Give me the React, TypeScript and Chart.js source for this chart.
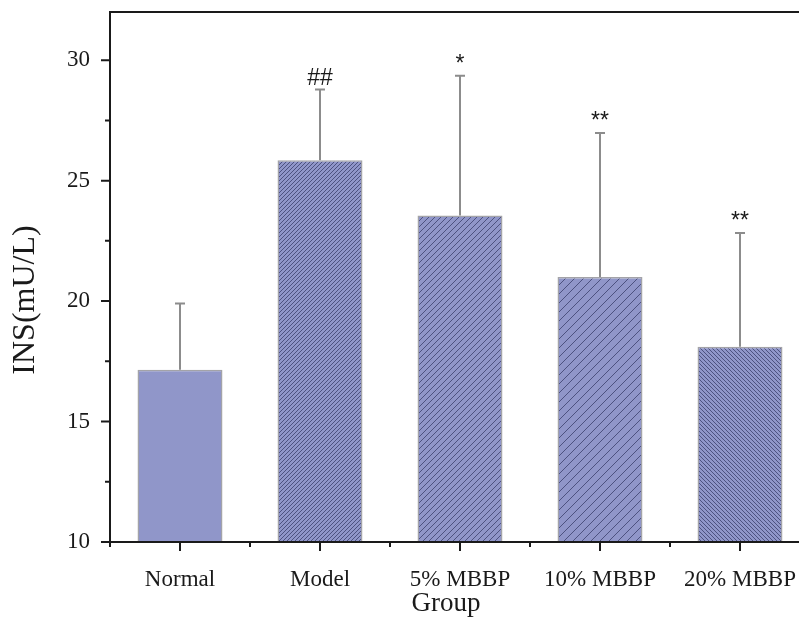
import React, { useEffect, useRef } from "react";
import { Chart, registerables } from "chart.js";

Chart.register(...registerables);

const categories = ["Normal", "Model", "5% MBBP", "10% MBBP", "20% MBBP"];
const means = [17.15, 25.85, 23.55, 21.0, 18.1];
const upperErrors = [19.9, 28.78, 29.35, 26.98, 22.83];
const marks = ["", "##", "*", "**", "**"];
const hatchKinds = ["none", "fwd-dense", "fwd-mid", "fwd-wide", "back-dense"];
const yTicks = [10, 15, 20, 25, 30];

const FILL = "#9096c9";
const LINE = "#4d5280";

function makePattern(kind: string): CanvasPattern | string {
  if (kind === "none") return FILL;
  const spacing = kind.endsWith("dense") ? 4 : kind.endsWith("mid") ? 6 : 9;
  const c = document.createElement("canvas");
  c.width = spacing;
  c.height = spacing;
  const g = c.getContext("2d")!;
  g.fillStyle = FILL;
  g.fillRect(0, 0, spacing, spacing);
  g.strokeStyle = LINE;
  g.lineWidth = 1;
  g.beginPath();
  if (kind.startsWith("fwd")) {
    g.moveTo(-1, spacing + 1);
    g.lineTo(spacing + 1, -1);
    g.moveTo(-1, 1);
    g.lineTo(1, -1);
    g.moveTo(spacing - 1, spacing + 1);
    g.lineTo(spacing + 1, spacing - 1);
  } else {
    g.moveTo(-1, -1);
    g.lineTo(spacing + 1, spacing + 1);
    g.moveTo(spacing - 1, -1);
    g.lineTo(spacing + 1, 1);
    g.moveTo(-1, spacing - 1);
    g.lineTo(1, spacing + 1);
  }
  g.stroke();
  const p = g.createPattern(c, "repeat");
  return p || FILL;
}

const decorPlugin = {
  id: "decor",
  afterDatasetsDraw(chart: any) {
    const ctx = chart.ctx;
    const xs = chart.scales.x;
    const ys = chart.scales.y;
    const area = chart.chartArea;
    ctx.save();
    // error bars
    ctx.strokeStyle = "#8c8c8c";
    ctx.lineWidth = 2;
    categories.forEach((_, i) => {
      const x = xs.getPixelForValue(i);
      const y0 = ys.getPixelForValue(means[i]);
      const y1 = ys.getPixelForValue(upperErrors[i]);
      ctx.beginPath();
      ctx.moveTo(x, y0);
      ctx.lineTo(x, y1);
      ctx.moveTo(x - 5, y1);
      ctx.lineTo(x + 5, y1);
      ctx.stroke();
      if (marks[i]) {
        ctx.fillStyle = "#1a1a1a";
        ctx.font = "23px 'Liberation Sans'";
        ctx.textAlign = "center";
        ctx.textBaseline = "alphabetic";
        ctx.fillText(marks[i], x, y1 - 5);
      }
    });
    // frame (left, top, bottom; right edge lies beyond the visible page)
    ctx.strokeStyle = "#1a1a1a";
    ctx.lineWidth = 2;
    ctx.beginPath();
    ctx.moveTo(area.right + 10, area.top);
    ctx.lineTo(area.left, area.top);
    ctx.lineTo(area.left, area.bottom);
    ctx.lineTo(area.right + 10, area.bottom);
    ctx.stroke();
    // y ticks
    ctx.lineWidth = 2;
    ctx.beginPath();
    for (let v = 10; v <= 32; v += 2.5) {
      const y = ys.getPixelForValue(v);
      const major = Math.abs(v / 5 - Math.round(v / 5)) < 1e-6;
      ctx.moveTo(area.left, y);
      ctx.lineTo(area.left - (major ? 9 : 5), y);
    }
    // x ticks
    for (let i = 0; i < categories.length; i++) {
      const x = xs.getPixelForValue(i);
      ctx.moveTo(x, area.bottom);
      ctx.lineTo(x, area.bottom + 9);
      const b = xs.getPixelForValue(i - 0.5);
      ctx.moveTo(b, area.bottom);
      ctx.lineTo(b, area.bottom + 5);
    }
    ctx.stroke();
    // titles
    ctx.fillStyle = "#1a1a1a";
    ctx.font = "27px 'Liberation Serif'";
    ctx.textAlign = "center";
    ctx.textBaseline = "middle";
    ctx.fillText("Group", 438, 596);
    ctx.font = "32px 'Liberation Serif'";
    ctx.translate(18, 292);
    ctx.rotate(-Math.PI / 2);
    ctx.fillText("INS(mU/L)", 0, 0);
    ctx.restore();
  },
};

export default function App() {
  const ref = useRef<HTMLCanvasElement>(null);
  useEffect(() => {
    if (!ref.current) return;
    const chart = new Chart(ref.current, {
      type: "bar",
      data: {
        labels: categories,
        datasets: [
          {
            data: means,
            backgroundColor: hatchKinds.map(makePattern),
            borderColor: "#a3a3a8",
            borderWidth: 1.5,
            categoryPercentage: 1,
            barPercentage: 0.607,
          },
        ],
      },
      options: {
        animation: false,
        responsive: false,
        devicePixelRatio: 1,
        layout: { padding: { top: 4, right: 1, left: 0, bottom: 0 } },
        plugins: { legend: { display: false }, tooltip: { enabled: false } },
        scales: {
          x: {
            grid: { display: false },
            border: { display: false },
            ticks: {
              color: "#1a1a1a",
              font: { family: "'Liberation Serif'", size: 23 },
              padding: 16,
              maxRotation: 0,
              autoSkip: false,
            },
            afterFit: (s: any) => {
              s.height = 82;
              s.paddingLeft = 0;
              s.paddingRight = 0;
              s.paddingTop = 0;
              s.paddingBottom = 0;
            },
          },
          y: {
            min: 10,
            max: 32,
            grid: { display: false },
            border: { display: false },
            afterBuildTicks: (s: any) => {
              s.ticks = yTicks.map((v) => ({ value: v }));
            },
            ticks: {
              color: "#1a1a1a",
              font: { family: "'Liberation Serif'", size: 23 },
              padding: 12,
              includeBounds: false,
            },
            afterFit: (s: any) => {
              s.width = 102;
              s.paddingTop = 0;
              s.paddingBottom = 0;
              s.paddingLeft = 0;
              s.paddingRight = 0;
            },
          },
        },
      },
      plugins: [decorPlugin],
    });
    return () => chart.destroy();
  }, []);
  return (
    <div style={{ width: 799, height: 616, overflow: "hidden" }}>
      <canvas ref={ref} width={803} height={616} style={{ display: "block" }} />
    </div>
  );
}
